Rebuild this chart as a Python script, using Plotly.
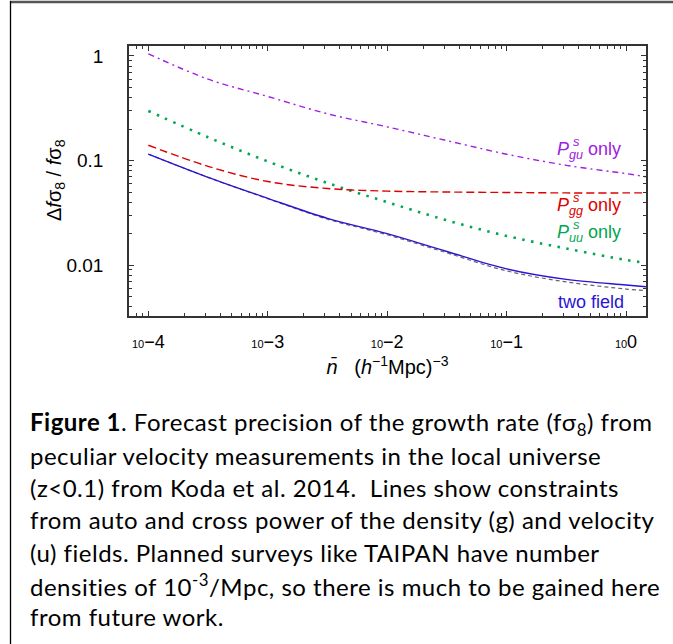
import plotly.graph_objects as go

# ---- data ----
n_bar = [1e-4, 3.162e-4, 1e-3, 3.162e-3, 1e-2, 3.162e-2, 0.1, 0.3162, 1.0, 1.47]
p_gu_only = [1.05, 0.60, 0.41, 0.28, 0.21, 0.155, 0.115, 0.090, 0.075, 0.070]
p_gg_only = [0.140, 0.088, 0.063, 0.054, 0.051, 0.050, 0.0495, 0.049, 0.049, 0.049]
p_uu_only = [0.298, 0.167, 0.098, 0.061, 0.040, 0.0268, 0.019, 0.0144, 0.0112, 0.0105]
two_field = [0.115, 0.069, 0.0435, 0.028, 0.020, 0.0135, 0.0092, 0.0073, 0.00645, 0.0062]
two_field_ref = [0.115, 0.069, 0.0432, 0.0275, 0.0195, 0.0131, 0.0088, 0.0069, 0.0059, 0.0057]

x_tickvals = [1e-4, 1e-3, 1e-2, 1e-1, 1]
x_exponents = ["−4", "−3", "−2", "−1", "0"]
y_tickvals = [0.01, 0.1, 1]
y_ticktext = ["0.01", "0.1", "1"]

y_title = "Δ<i>f</i>σ<sub>8</sub> / <i>f</i>σ<sub>8</sub>"
x_title = "<i>n̄</i>   (<i>h</i><sup>−1</sup>Mpc)<sup>−3</sup>"

caption_lines = [
    "<b>Figure 1</b>. Forecast precision of the growth rate (fσ<sub>8</sub>) from",
    "peculiar velocity measurements in the local universe",
    "(z<0.1) from Koda et al. 2014.  Lines show constraints",
    "from auto and cross power of the density (g) and velocity",
    "(u) fields. Planned surveys like TAIPAN have number",
    "densities of 10<sup>-3</sup>/Mpc, so there is much to be gained here",
    "from future work.",
]

# ---- layout geometry ----
W, H = 673, 644
L, R, T, B = 129, 646, 46, 316


def px(x):
    return (x - L) / (R - L)


def py(y):
    return (B - y) / (B - T)


PURPLE = "#a020e0"
RED = "#dd0000"
GREEN = "#00a650"
BLUE = "#2a14d4"
AX = "#333333"
SANS = "Liberation Sans, Arial, sans-serif"

fig = go.Figure()
fig.add_trace(go.Scatter(x=n_bar, y=two_field_ref, mode="lines", line_shape="spline",
                         line=dict(color="#666666", width=1.2, dash="4px,3px"), showlegend=False))
fig.add_trace(go.Scatter(x=n_bar, y=two_field, mode="lines", line_shape="spline",
                         line=dict(color=BLUE, width=1.4), showlegend=False))
fig.add_trace(go.Scatter(x=n_bar, y=p_uu_only, mode="lines", line_shape="spline",
                         line=dict(color=GREEN, width=2.6, dash="2.5px,6.5px"), showlegend=False))
fig.add_trace(go.Scatter(x=n_bar, y=p_gg_only, mode="lines", line_shape="spline",
                         line=dict(color=RED, width=1.4, dash="8px,4px"), showlegend=False))
fig.add_trace(go.Scatter(x=n_bar, y=p_gu_only, mode="lines", line_shape="spline",
                         line=dict(color=PURPLE, width=1.4, dash="6px,4px,2px,4px"), showlegend=False))

x_ticktext = ["<span style='font-size:11px'>10</span>" + e for e in x_exponents]

fig.update_xaxes(type="log", range=[-4.162, 0.1675], tickvals=x_tickvals, ticktext=x_ticktext,
                 ticks="inside", ticklen=5, tickwidth=1, tickcolor=AX,
                 showline=True, linecolor=AX, linewidth=1.5, mirror="allticks",
                 showgrid=False, zeroline=False, ticklabelstandoff=9,
                 tickfont=dict(family=SANS, size=18, color="#000"),
                 minor=dict(ticks="inside", ticklen=3, tickcolor=AX, dtick="D1", showgrid=False),
                 title=dict(text=x_title, font=dict(family=SANS, size=20, color="#000"), standoff=9))
fig.update_yaxes(type="log", range=[-2.487, 0.0955], tickvals=y_tickvals, ticktext=y_ticktext,
                 ticks="inside", ticklen=5, tickwidth=1, tickcolor=AX,
                 showline=True, linecolor=AX, linewidth=1.5, mirror="allticks",
                 showgrid=False, zeroline=False, ticklabelstandoff=20,
                 tickfont=dict(family=SANS, size=19, color="#000"),
                 minor=dict(ticks="inside", ticklen=3, tickcolor=AX, dtick="D1", showgrid=False))

annos = []
# y-axis title (placed explicitly to match vertical position)
annos.append(dict(text=y_title, x=px(55), y=py(180), xref="paper", yref="paper",
                  xanchor="center", yanchor="middle", textangle=-90, showarrow=False,
                  font=dict(family=SANS, size=20, color="#000")))
# curve labels
labels = [
    ("gu", PURPLE, 150),
    ("gg", RED, 206),
    ("uu", GREEN, 233),
]
for sub, col, yc in labels:
    annos.append(dict(text="<i>P</i><sub><i>" + sub + "</i></sub> only", x=px(555), y=py(yc),
                      xref="paper", yref="paper", xanchor="left", yanchor="middle", showarrow=False,
                      font=dict(family=SANS, size=18, color=col)))
    annos.append(dict(text="<i>s</i>", x=px(576), y=py(yc - 9), xref="paper", yref="paper",
                      xanchor="center", yanchor="middle", showarrow=False,
                      font=dict(family=SANS, size=13, color=col)))
annos.append(dict(text="two field", x=px(626), y=py(302), xref="paper", yref="paper",
                  xanchor="right", yanchor="middle", showarrow=False,
                  font=dict(family=SANS, size=18, color=BLUE)))

# caption
for i, line in enumerate(caption_lines):
    annos.append(dict(text="<span style='letter-spacing:0.5px'>" + line + "</span>",
                      x=px(28), y=py(423 + 32.3 * i), xref="paper", yref="paper",
                      xanchor="left", yanchor="middle", showarrow=False, align="left",
                      font=dict(family="Lato, Carlito, sans-serif", size=24, color="#000")))

shapes = [
    dict(type="line", xref="paper", yref="paper", x0=px(10), x1=px(673), y0=py(2), y1=py(2),
         line=dict(color="#555555", width=2.5)),
    dict(type="line", xref="paper", yref="paper", x0=px(10.5), x1=px(10.5), y0=py(1), y1=py(644),
         line=dict(color="#000000", width=1.3)),
]

fig.update_layout(width=W, height=H, margin=dict(l=L, r=W - R, t=T, b=H - B),
                  paper_bgcolor="white", plot_bgcolor="white",
                  annotations=annos, shapes=shapes, showlegend=False)

fig.write_html("out.html", config={"displayModeBar": False},
               post_script="document.body.style.margin='0px';")
